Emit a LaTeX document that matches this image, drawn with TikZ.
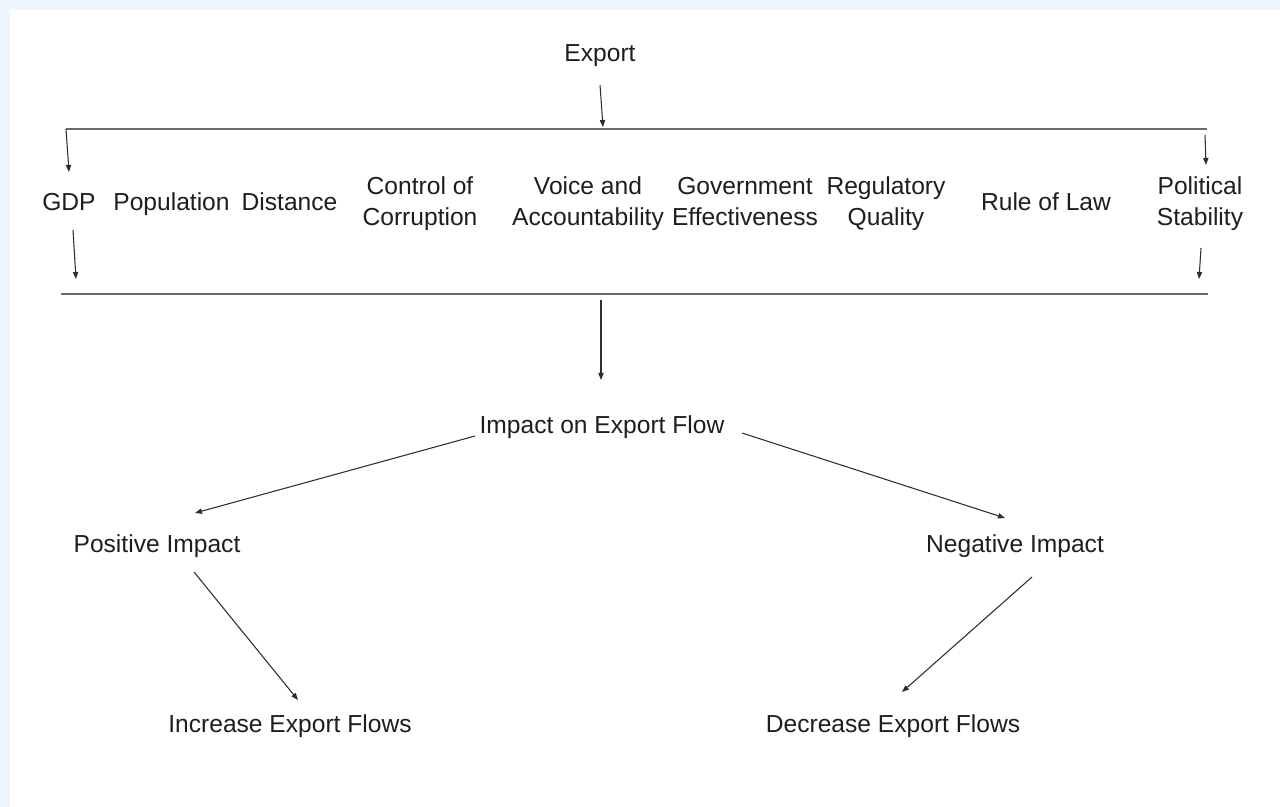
\documentclass[tikz,border=0pt]{standalone}
\usepackage{fontspec}
\setmainfont{Liberation Sans}
\usetikzlibrary{arrows.meta,calc}
\definecolor{cbg}{HTML}{EBF7FC}
\definecolor{cline}{HTML}{2E2E2E}
\definecolor{cbar}{HTML}{6A6A6A}
\definecolor{ctxt}{HTML}{1E1E1E}

\begin{document}
\begin{tikzpicture}[x=0.02cm, y=-0.02cm,
  lbl/.style={inner sep=0pt, text=ctxt, font=\fontsize{14}{17.6}\selectfont, anchor=base},
  pair/.style={lbl, anchor=center, align=center},
  arr/.style={-{Triangle[length=4pt,width=3pt]}, line width=0.6pt, draw=cline},
  bar/.style={line width=1pt, draw=cbar}
]
% page
\fill[cbg] (0,0) rectangle (1280,807);
\fill[white] (10,10) rectangle (1280,807);
\useasboundingbox (0,0) rectangle (1280,807);

% top and the two bars
\node[lbl] (export) at (600,62) {Export};
\coordinate (bar1-l) at (66,129);
\coordinate (bar1-r) at (1207,129);
\coordinate (bar1-in) at (603,127);
\coordinate (bar2-l) at (61,294);
\coordinate (bar2-r) at (1208,294);
\coordinate (bar2-out) at (601,300);
\draw[bar] (bar1-l) -- (bar1-r);
\draw[bar] (bar2-l) -- (bar2-r);
\draw[arr] ($(export.base)+(0,23)$) -- (bar1-in);

% determinants
\node[lbl] (gdp) at (69,211) {GDP};
\node[lbl] (pop) at (171.5,211) {Population};
\node[lbl] (dist) at (289.5,211) {Distance};
\node[pair] (corr) at (420,204) {Control of\\Corruption};
\node[pair] (voice) at (588,204) {Voice and\\Accountability};
\node[pair] (gov) at (745,201.5) {Government\\Effectiveness};
\node[pair] (reg) at (886,204) {Regulatory\\Quality};
\node[lbl] (law) at (1046,211) {Rule of Law};
\node[pair] (pol) at (1200,204) {Political\\Stability};

\draw[arr] (bar1-l) -- ($(gdp.base)+(0,-39)$);
\draw[arr] ($(bar1-r)+(-2,6)$) -- ($(pol.center)+(6,-39)$);
\draw[arr] ($(gdp.base)+(4,19)$) -- ($(gdp.base)+(7,68)$);
\draw[arr] ($(pol.center)+(1,44)$) -- ($(pol.center)+(-1,75)$);

% impact
\node[lbl] (impact) at (602,433) {Impact on Export Flow};
\node[lbl] (pos) at (157,552) {Positive Impact};
\node[lbl] (neg) at (1015,552) {Negative Impact};
\node[lbl] (inc) at (290,732) {Increase Export Flows};
\node[lbl] (dec) at (893,732) {Decrease Export Flows};

\draw[arr] (bar2-out) -- ($(impact.base)+(-1,-53)$);
\draw[arr] ($(impact.base)+(-127,3)$) -- ($(pos.base)+(38,-39)$);
\draw[arr] ($(impact.base)+(140,0)$) -- ($(neg.base)+(-10,-34)$);
\draw[arr] ($(pos.base)+(37,20)$) -- ($(inc.base)+(8,-32)$);
\draw[arr] ($(neg.base)+(17,25)$) -- ($(dec.base)+(9,-40)$);
\end{tikzpicture}
\end{document}
